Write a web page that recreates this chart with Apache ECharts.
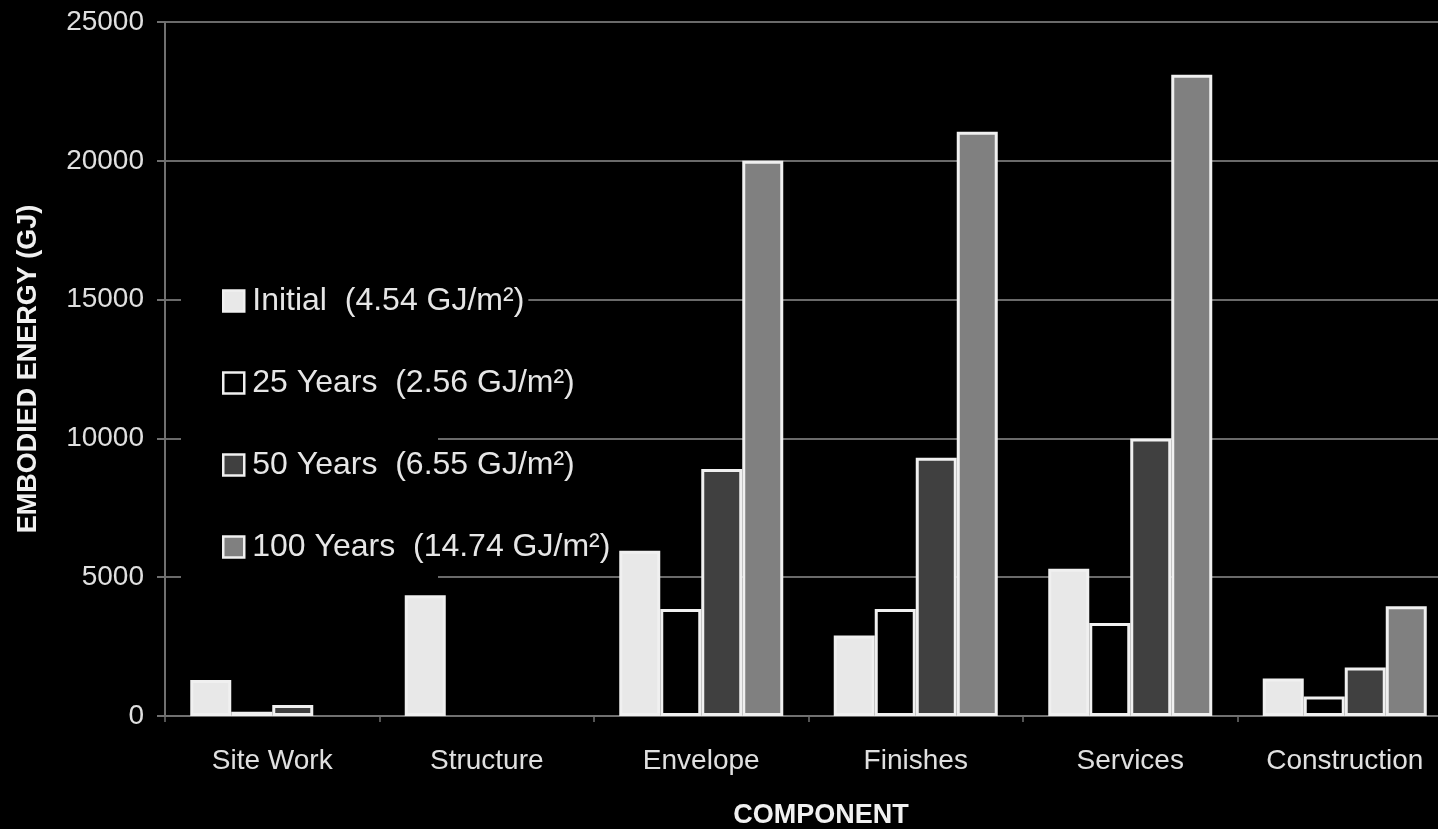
<!DOCTYPE html>
<html>
<head>
<meta charset="utf-8">
<script src="https://cdn.jsdelivr.net/npm/echarts@6/dist/echarts.min.js"></script>
<style>
html,body{margin:0;padding:0;background:#000;overflow:hidden;}
#main{width:1438px;height:829px;}
</style>
</head>
<body>
<div id="main"></div>
<script>
var categories = ['Site Work', 'Structure', 'Envelope', 'Finishes', 'Services', 'Construction'];
var seriesNames = ['Initial  (4.54 GJ/m\u00B2)', '25 Years  (2.56 GJ/m\u00B2)', '50 Years  (6.55 GJ/m\u00B2)', '100 Years  (14.74 GJ/m\u00B2)'];
var initialValues = [1300, 4350, 5950, 2900, 5300, 1350];
var years25Values = [150, null, 3850, 3850, 3350, 700];
var years50Values = [400, null, 8900, 9300, 10000, 1750];
var years100Values = [null, null, 20000, 21050, 23100, 3950];
var yTicks = { min: 0, max: 25000, interval: 5000 };

var fills = ['#e8e8e8', '#000000', '#404040', '#808080'];
var allValues = [initialValues, years25Values, years50Values, years100Values];

var font = 'Liberation Sans, Arial, sans-serif';
var chart = echarts.init(document.getElementById('main'));
chart.setOption({
  backgroundColor: '#000',
  animation: false,
  textStyle: { fontFamily: font },
  grid: { left: 165, width: 1287, top: 22, height: 694, containLabel: false, outerBoundsMode: 'none' },
  graphic: [{
    type: 'rect', z: 1, silent: true,
    shape: { x: 181, y: 285, width: 257, height: 300 },
    style: { fill: '#000' }
  }],
  legend: {
    orient: 'vertical',
    left: 217, top: 277,
    icon: 'rect',
    itemWidth: 21, itemHeight: 21,
    itemGap: 44,
    selectedMode: false,
    textStyle: {
      color: '#e6e6e6', fontSize: 32, fontFamily: font,
      lineHeight: 34, backgroundColor: '#000', padding: [2, 4, 2, 3]
    },
    itemStyle: { borderColor: '#f0f0f0', borderWidth: 2.5 },
    data: seriesNames
  },
  xAxis: {
    type: 'category',
    data: categories,
    name: 'COMPONENT',
    nameLocation: 'middle',
    nameGap: 86,
    nameTextStyle: { color: '#f0f0f0', fontSize: 27, fontWeight: 'bold', fontFamily: font, padding: [0, 0, 0, 25] },
    axisLine: { lineStyle: { color: '#707070', width: 2 } },
    axisTick: { show: true, length: 6, lineStyle: { color: '#707070', width: 1.5 } },
    axisLabel: { color: '#e0e0e0', fontSize: 28, margin: 31, fontFamily: font }
  },
  yAxis: {
    type: 'value',
    min: yTicks.min, max: yTicks.max, interval: yTicks.interval,
    name: 'EMBODIED ENERGY (GJ)',
    nameLocation: 'middle',
    nameGap: 123,
    nameTextStyle: { color: '#f0f0f0', fontSize: 27, fontWeight: 'bold', fontFamily: font },
    axisLine: { show: true, lineStyle: { color: '#707070', width: 2 } },
    axisTick: { show: true, length: 8, lineStyle: { color: '#707070', width: 2 } },
    axisLabel: { color: '#e0e0e0', fontSize: 28, margin: 21, fontFamily: font, formatter: function (v) { return String(v); } },
    splitLine: { show: true, lineStyle: { color: '#6a6a6a', width: 2 } }
  },
  series: seriesNames.map(function (n, i) {
    return {
      name: n,
      type: 'bar',
      data: allValues[i],
      barWidth: 41,
      barGap: '0%',
      itemStyle: { color: fills[i], borderColor: '#f0f0f0', borderWidth: 3 }
    };
  })
});
</script>
</body>
</html>
